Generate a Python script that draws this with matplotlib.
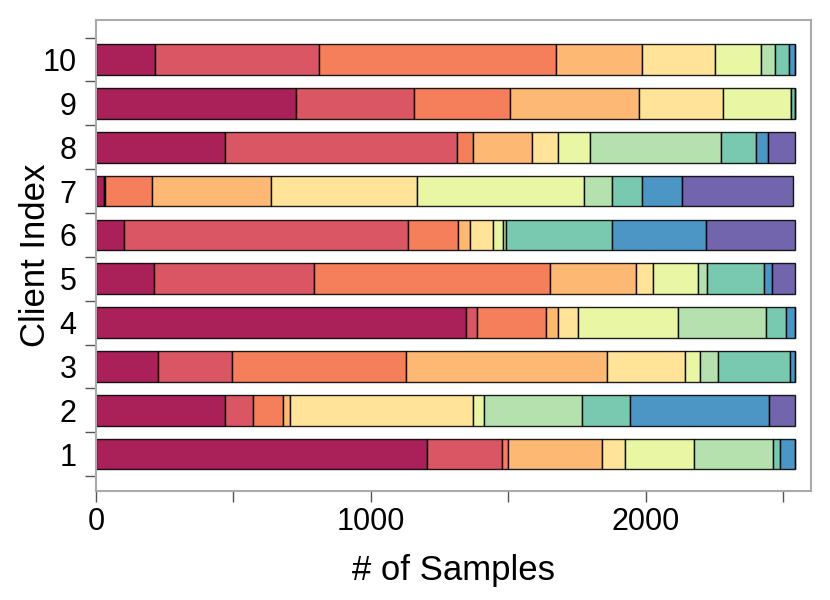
import numpy as np
import matplotlib.pyplot as plt
import matplotlib as mpl

mpl.rcParams.update({"font.family": ["Liberation Sans", "DejaVu Sans"], "font.size": 20})

# samples per class (10 classes) for each client
clients = [1, 2, 3, 4, 5, 6, 7, 8, 9, 10]
client1 = [1204, 274, 20, 343, 83, 252, 288, 24, 56, 0]
client2 = [468, 102, 111, 24, 667, 38, 359, 175, 505, 95]
client3 = [224, 271, 634, 731, 284, 52, 67, 262, 19, 0]
client4 = [1345, 42, 251, 42, 73, 364, 321, 73, 33, 0]
client5 = [210, 584, 859, 312, 60, 166, 32, 208, 29, 84]
client6 = [103, 1032, 183, 44, 83, 34, 12, 387, 342, 324]
client7 = [29, 4, 172, 433, 529, 607, 104, 107, 148, 404]
client8 = [470, 845, 58, 214, 93, 116, 479, 126, 45, 98]
client9 = [728, 429, 350, 469, 306, 245, 0, 17, 0, 0]
client10 = [214, 598, 860, 315, 266, 167, 51, 52, 21, 0]
counts = np.array([client1, client2, client3, client4, client5,
                   client6, client7, client8, client9, client10])

spectral10 = ["#9e0142", "#d53e4f", "#f46d43", "#fdae61", "#fee08b",
              "#e6f598", "#abdda4", "#66c2a5", "#3288bd", "#5e4fa2"]

fig = plt.figure(figsize=(8.3, 6.0), dpi=100)
ax = fig.add_axes([0.1157, 0.1817, 0.861, 0.785])

left = np.zeros(len(clients))
for k in range(counts.shape[1]):
    ax.barh(clients, counts[:, k], left=left, height=0.7, color=spectral10[k],
            alpha=0.88, edgecolor="black", linewidth=1.0)
    left += counts[:, k]

ax.set_xlim(0, 2600)
ax.set_ylim(0.16, 10.9)

ax.set_xticks([0, 500, 1000, 1500, 2000, 2500])
ax.set_xticklabels(["0", "", "1000", "", "2000", ""])
ax.set_yticks(np.arange(0.5, 11, 1.0))
ax.set_yticklabels([])
ax.set_yticks(clients, minor=True)
ax.set_yticklabels([str(c) for c in clients], minor=True)
ax.tick_params(axis="y", which="minor", length=0, pad=14)
ax.tick_params(axis="both", which="major", length=8, width=1, color="#555555", labelsize=22)
ax.tick_params(axis="y", which="minor", labelsize=22)

for s in ax.spines.values():
    s.set_color("#aaaaaa")
    s.set_linewidth(1.5)

ax.set_xlabel("# of Samples", fontsize=25, labelpad=12)
ax.set_ylabel("Client Index", fontsize=25)
ax.yaxis.set_label_coords(-0.062, 0.5)

fig.savefig("out.png", dpi=100)
